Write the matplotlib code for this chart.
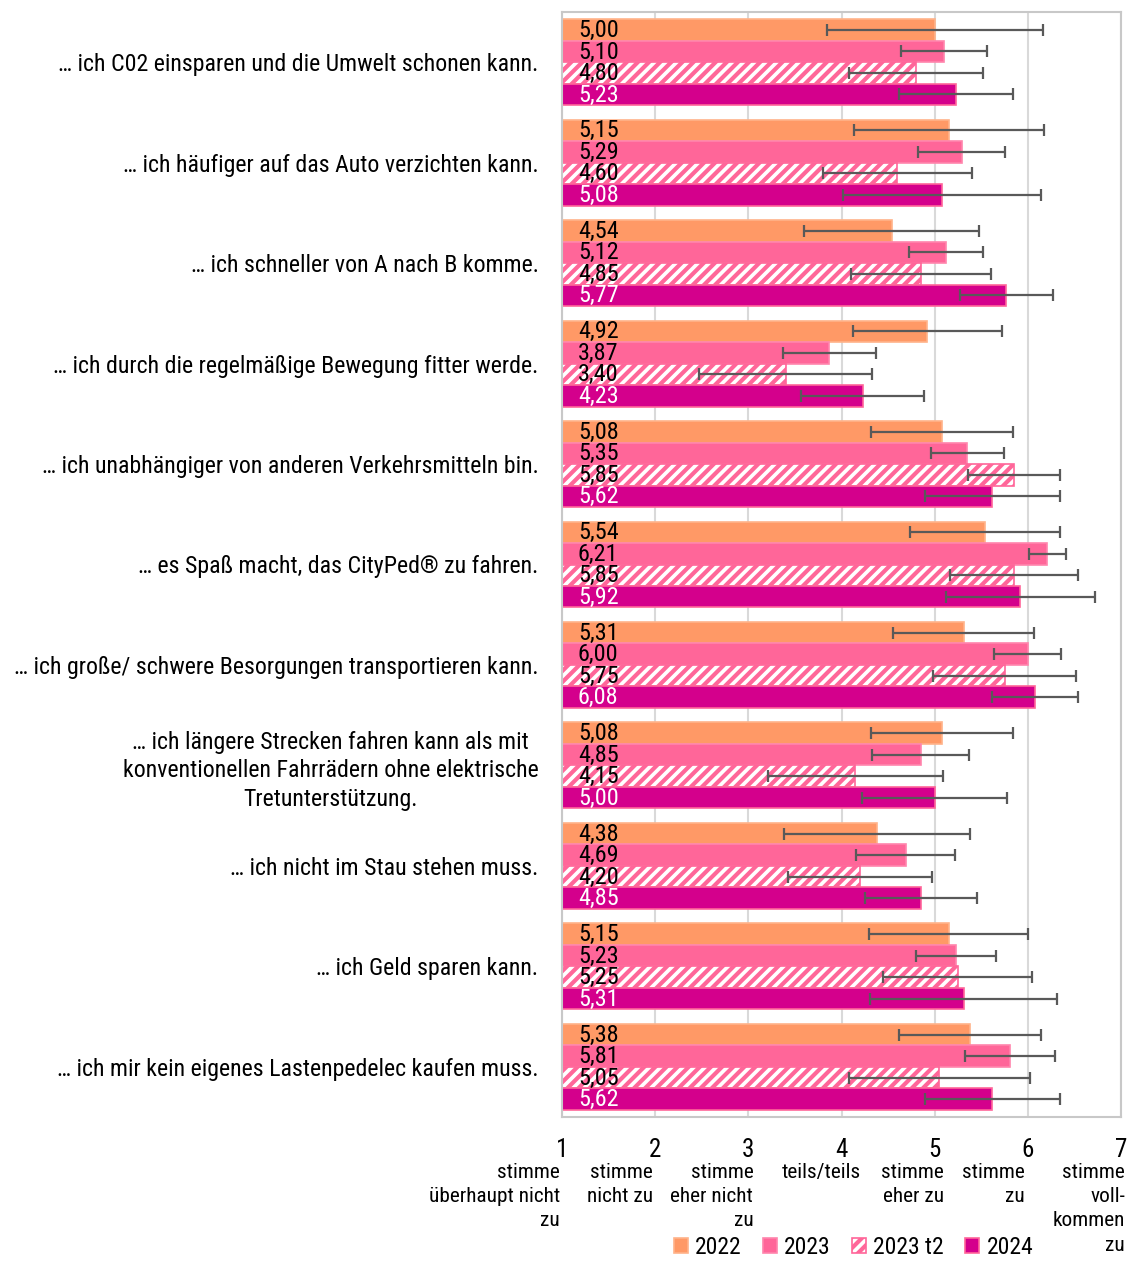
import numpy as np
import matplotlib.pyplot as plt
from matplotlib.patches import Patch
from matplotlib import font_manager as fm

verfuegbar = set(f.name for f in fm.fontManager.ttflist)
if 'Roboto Condensed' in verfuegbar:
    schrift = 'Roboto Condensed'
    gr = 1.0
else:
    schrift = 'Roboto'
    gr = 0.88
plt.rcParams['font.family'] = [schrift, 'DejaVu Sans']
plt.rcParams['hatch.linewidth'] = 3.0

# Daten
kategorien = [
    "… ich C02 einsparen und die Umwelt schonen kann.",
    "… ich häufiger auf das Auto verzichten kann.",
    "… ich schneller von A nach B komme.",
    "… ich durch die regelmäßige Bewegung fitter werde.",
    "… ich unabhängiger von anderen Verkehrsmitteln bin.",
    "… es Spaß macht, das CityPed® zu fahren.",
    "… ich große/ schwere Besorgungen transportieren kann.",
    "… ich längere Strecken fahren kann als mit\nkonventionellen Fahrrädern ohne elektrische\nTretunterstützung.",
    "… ich nicht im Stau stehen muss.",
    "… ich Geld sparen kann.",
    "… ich mir kein eigenes Lastenpedelec kaufen muss.",
]
serien = ["2022", "2023", "2023 t2", "2024"]

werte_2022 = [5.00, 5.15, 4.54, 4.92, 5.08, 5.54, 5.31, 5.08, 4.38, 5.15, 5.38]
werte_2023 = [5.10, 5.29, 5.12, 3.87, 5.35, 6.21, 6.00, 4.85, 4.69, 5.23, 5.81]
werte_2023t2 = [4.80, 4.60, 4.85, 3.40, 5.85, 5.85, 5.75, 4.15, 4.20, 5.25, 5.05]
werte_2024 = [5.23, 5.08, 5.77, 4.23, 5.62, 5.92, 6.08, 5.00, 4.85, 5.31, 5.62]

# Standardabweichungen (geschätzt)
sd_2022 = [1.16, 1.02, 0.94, 0.80, 0.76, 0.80, 0.76, 0.76, 1.00, 0.85, 0.76]
sd_2023 = [0.46, 0.47, 0.40, 0.50, 0.39, 0.20, 0.36, 0.52, 0.53, 0.43, 0.48]
sd_2023t2 = [0.72, 0.80, 0.75, 0.93, 0.49, 0.69, 0.77, 0.94, 0.77, 0.80, 0.97]
sd_2024 = [0.61, 1.06, 0.50, 0.66, 0.72, 0.80, 0.46, 0.78, 0.60, 1.00, 0.72]

skala_ticks = [1, 2, 3, 4, 5, 6, 7]
skala_texte = ["stimme\nüberhaupt nicht\nzu", "stimme\nnicht zu", "stimme\neher nicht\nzu",
               "teils/teils", "stimme\neher zu", "stimme\nzu", "stimme\nvoll-\nkommen\nzu"]
skala_versatz = [-2, -2, 5, 19, 9, -3, 4]  # px

farben = ['#FF9966', '#FF6699', 'white', '#D4008C']
kanten = ['#FFB38A', '#FF85AD', '#FF6699', '#FF6699']
textfarben = ['black', 'black', 'black', 'white']
schraffur = [None, None, '///', None]

werte = [werte_2022, werte_2023, werte_2023t2, werte_2024]
sds = [sd_2022, sd_2023, sd_2023t2, sd_2024]

fig = plt.figure(figsize=(11.35, 12.62), dpi=100)
ax = fig.add_axes([562 / 1135, 1 - 1117 / 1262, (1121 - 562) / 1135, (1117 - 12) / 1262])

pos = np.arange(len(kategorien))
h = 0.214
for k in range(4):
    y = pos + (k - 1.5) * h
    v = np.array(werte[k])
    ax.barh(y, v - 1, left=1, height=h, color=farben[k], edgecolor=kanten[k],
            linewidth=1.2, hatch=schraffur[k], zorder=2)
    ax.errorbar(v, y, xerr=sds[k], fmt='none', ecolor='#595959', elinewidth=1.6,
                capsize=4.5, capthick=1.6, zorder=3)
    for yy, vv in zip(y, v):
        ax.text(1.17, yy + 0.005, f"{vv:.2f}".replace('.', ','), va='center', ha='left',
                fontsize=17.5 * gr, color=textfarben[k], zorder=4)

ax.set_xlim(1, 7)
ax.set_ylim(len(kategorien) - 0.5, -0.5)
ax.set_xticks(skala_ticks)
ax.set_xticklabels([str(t) for t in skala_ticks], fontsize=18 * gr)
ax.tick_params(axis='x', length=0, pad=15)
ax.set_yticks(pos)
ax.set_yticklabels(kategorien, fontsize=17.2 * gr * (0.9 if gr < 1 else 1),
                   multialignment='center', linespacing=1.3)
ax.tick_params(axis='y', length=0, pad=17)
ax.grid(axis='x', color='#D9D9D9', linewidth=1.5, zorder=0)
ax.set_axisbelow(True)
for s in ax.spines.values():
    s.set_color('#C8C8C8')
    s.set_linewidth(1.5)

for t, txt, dx in zip(skala_ticks, skala_texte, skala_versatz):
    ax.annotate(txt, xy=(t, 0), xycoords=('data', 'axes fraction'),
                xytext=(dx * 0.72, -46 * 0.72), textcoords='offset points',
                ha='right', va='top', multialignment='right', fontsize=15.3 * gr,
                linespacing=1.35, annotation_clip=False)

handles = [Patch(facecolor=farben[k], edgecolor=kanten[k], hatch=schraffur[k], linewidth=1.2)
           for k in range(4)]
fig.legend(handles, serien, loc='center', bbox_to_anchor=(0.752, 0.0115), ncol=4,
           frameon=False, fontsize=17 * gr, handlelength=0.6, handleheight=0.6,
           handletextpad=0.3, columnspacing=0.9, borderpad=0)

plt.savefig('out.png', dpi=100)
